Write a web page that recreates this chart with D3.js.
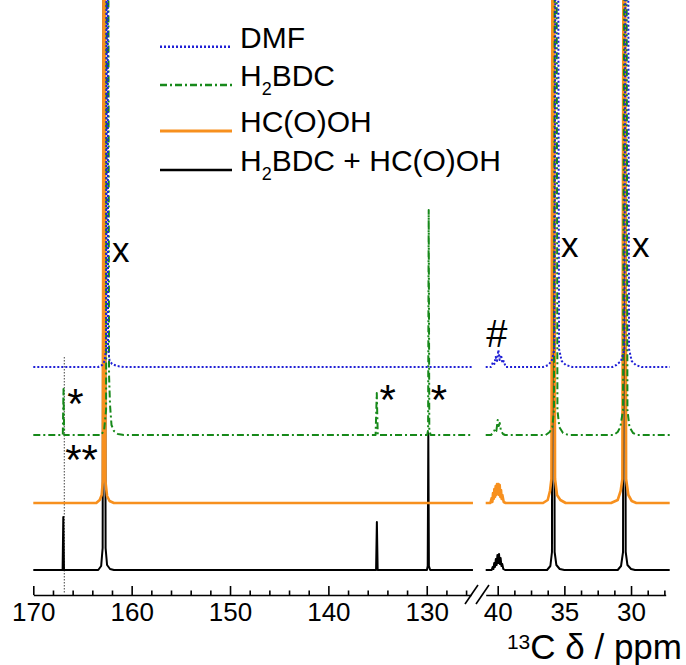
<!DOCTYPE html>
<html>
<head>
<meta charset="utf-8">
<script src="https://cdn.jsdelivr.net/npm/d3@7"></script>
<style>
  body { margin: 0; background: #fff; }
  text { font-family: "Liberation Sans", Arial, sans-serif; }
</style>
</head>
<body>
<div id="chart"></div>
<script>
// ---- data (ppm, intensity above each trace's own baseline) ----
const traceNames = ["DMF", "H{2}BDC", "HC(O)OH", "H{2}BDC + HC(O)OH"];
const traceOffsets = [203, 135, 67, 0];

const dmfLeft = [[170,0],[163.4,0],[163.0,2],[162.75,6],[162.6,18],[162.5,1000],[162.4,18],[162.25,7],[162.0,3],[161.5,1],[160.8,0],[125.3,0]];
const dmfRight = [[40.9,0],[40.5,0],[40.35,5],[40.25,3],[40.15,10],[40.05,6],[39.95,17],[39.85,7],[39.75,12],[39.65,4],[39.55,6],[39.4,0],
  [36.6,0],[36.2,2],[35.95,6],[35.75,18],[35.55,1000],[35.4,18],[35.2,6],[34.9,2],[34.4,0],
  [31.4,0],[31.1,2],[30.75,6],[30.5,18],[30.3,1000],[30.15,18],[29.95,6],[29.65,2],[29.2,0],[27.1,0]];

const bdcLeft = [[170,0],[167.0,0],[166.93,46],[166.86,0],[163.1,0],[162.8,5],[162.6,25],[162.45,1000],[162.3,60],[162.2,30],[162.05,10],[161.8,4],[161.4,1],[160.8,0],
  [135.2,0],[135.08,42],[134.98,0],[129.95,0],[129.86,5],[129.8,225],[129.74,5],[129.6,0],[125.3,0]];
const bdcRight = [[40.9,0],[40.5,0],[40.3,3],[40.2,6],[40.1,4],[40.0,15],[39.92,9],[39.85,12],[39.75,4],[39.6,1],[39.45,0],
  [36.4,0],[36.1,3],[35.9,8],[35.78,25],[35.65,1000],[35.52,25],[35.38,8],[35.1,2],[34.7,0],
  [31.3,0],[31.0,3],[30.8,8],[30.6,25],[30.4,1000],[30.27,25],[30.12,8],[29.85,2],[29.5,0],[27.1,0]];

const formicLeft = [[170,0],[163.6,0],[163.25,3],[163.05,8],[162.93,22],[162.8,1000],[162.67,22],[162.5,7],[162.25,2],[161.8,0],[125.3,0]];
const formicRight = [[40.9,0],[40.55,0],[40.45,5],[40.4,1],[40.35,10],[40.3,4],[40.25,14],[40.2,6],[40.15,17],[40.1,8],[40.05,19],[40.0,9],[39.95,19],[39.9,8],[39.85,18],[39.8,6],[39.75,13],[39.7,4],[39.65,8],[39.55,1],[39.4,0],
  [36.6,0],[36.25,3],[36.08,12],[35.97,24],[35.83,1000],[35.7,24],[35.55,8],[35.3,3],[34.9,0],
  [31.5,0],[31.0,3],[30.78,12],[30.65,24],[30.5,1000],[30.37,24],[30.2,8],[29.95,2],[29.6,0],[27.1,0]];

const mixLeft = [[170,0],[167.02,0],[166.95,53],[166.88,0],[163.4,0],[163.1,4],[162.95,22],[162.8,1000],[162.65,22],[162.5,5],[162.2,1],[161.8,0],
  [135.15,0],[135.07,48],[134.99,0],[129.98,0],[129.9,4],[129.84,137],[129.78,4],[129.65,0],[125.3,0]];
const mixRight = [[40.9,0],[40.45,0],[40.38,3],[40.32,1],[40.26,7],[40.2,3],[40.14,11],[40.08,5],[40.02,15],[39.96,7],[39.9,16],[39.84,6],[39.78,12],[39.72,4],[39.66,6],[39.58,1],[39.45,0],
  [36.3,0],[36.05,4],[35.93,18],[35.83,1000],[35.73,18],[35.6,5],[35.35,1],[35.0,0],
  [31.0,0],[30.75,4],[30.6,18],[30.5,1000],[30.4,18],[30.27,5],[30.0,1],[29.7,0],[27.1,0]];

const leftMajor = [170, 160, 150, 140, 130];
const leftMinor = [168, 166, 164, 162, 158, 156, 154, 152, 148, 146, 144, 142, 138, 136, 134, 132, 128, 126];
const rightMajor = [40, 35, 30];
const rightMinor = [38.75, 37.5, 36.25, 33.75, 32.5, 31.25, 28.75, 27.5];

const markLabels = ["x", "x", "x", "#", "*", "**", "*", "*"];
const markPpm = [162.0, 35.25, 29.93, 40.85, 166.55, 166.75, 134.8, 129.6];
const markLevel = [308, 313, 313, 223, 152, 96, 156, 156];

const referencePpm = 166.85;

// ---- layout ----
const W = 686, H = 665;
const axisY = 595;
const colors = ["#1f1fd6", "#17891a", "#f7901e", "#000000"];
const dashes = ["2,2", "7,3,2,3", null, null];
const widths = [2, 2, 2.6, 2];

const svg = d3.select("#chart").append("svg")
  .attr("width", W).attr("height", H);

const xLeft = d3.scaleLinear().domain([170, 125.5]).range([33.3, 471]);
const xRight = d3.scaleLinear().domain([40.9, 27.4]).range([485.7, 665.7]);
const y = d3.scaleLinear().domain([0, 570]).range([570, 0]);

const series = [
  [dmfLeft, dmfRight],
  [bdcLeft, bdcRight],
  [formicLeft, formicRight],
  [mixLeft, mixRight]
];

// dotted reference line
svg.append("line")
  .attr("x1", xLeft(referencePpm)).attr("x2", xLeft(referencePpm))
  .attr("y1", 357).attr("y2", axisY - 1)
  .attr("stroke", "#444").attr("stroke-width", 1)
  .attr("stroke-dasharray", "1.5,1.5");

// traces: black first, blue on top
const drawOrder = [3, 2, 1, 0];
drawOrder.forEach(i => {
  [[series[i][0], xLeft], [series[i][1], xRight]].forEach(([pts, xs]) => {
    const line = d3.line()
      .x(d => xs(d[0]))
      .y(d => y(d[1] + traceOffsets[i]));
    svg.append("path")
      .datum(pts)
      .attr("d", line)
      .attr("fill", "none")
      .attr("stroke", colors[i])
      .attr("stroke-width", widths[i])
      .attr("stroke-linejoin", "round")
      .attr("stroke-dasharray", dashes[i]);
  });
});

// axes
function drawAxis(scale, major, minor) {
  const g = svg.append("g").attr("transform", `translate(0,${axisY})`);
  g.call(d3.axisBottom(scale).tickValues(major)
      .tickSizeInner(-9).tickSizeOuter(0).tickPadding(8));
  g.append("g").call(d3.axisBottom(scale).tickValues(minor)
      .tickSizeInner(-4.5).tickSizeOuter(0).tickFormat(""))
    .select(".domain").remove();
  g.selectAll("path, line").attr("stroke", "#000").attr("stroke-width", 1.6);
  g.selectAll("text")
    .attr("fill", "#000")
    .style("font-size", "26px")
    .style("font-family", '"Liberation Sans", Arial, sans-serif');
}
drawAxis(xLeft, leftMajor, leftMinor);
drawAxis(xRight, rightMajor, rightMinor);

// axis break
svg.append("g").selectAll("line")
  .data([0, 11])
  .enter().append("line")
  .attr("x1", d => 465 + d).attr("y1", 604)
  .attr("x2", d => 478 + d).attr("y2", 585)
  .attr("stroke", "#000").attr("stroke-width", 1.6);

// axis title
const title = svg.append("text")
  .attr("x", 682).attr("y", 659)
  .attr("text-anchor", "end")
  .style("font-size", "35px");
title.append("tspan").text("13").style("font-size", "21px").attr("dy", -10);
title.append("tspan").text("C δ / ppm").attr("dy", 10);

// annotations
svg.append("g").selectAll("text")
  .data(markLabels)
  .enter().append("text")
  .attr("x", (d, i) => (markPpm[i] > 100 ? xLeft : xRight)(markPpm[i]))
  .attr("y", (d, i) => y(markLevel[i]))
  .style("font-size", d => d === "*" || d === "**" ? "42px" : d === "#" ? "38px" : "35px")
  .text(d => d);

// legend
function richText(sel, str, sub) {
  str.split(/(\{\d+\})/).filter(s => s.length).forEach(part => {
    if (part[0] === "{") {
      sel.append("tspan").text(part.slice(1, -1))
        .style("font-size", sub + "px").attr("dy", 9);
    } else {
      sel.append("tspan").text(part).attr("dy", sel.selectAll("tspan").size() ? -9 : 0);
    }
  });
}
const legendY = [46.7, 85, 131, 170];
const legend = svg.append("g");
traceNames.forEach((name, i) => {
  legend.append("line")
    .attr("x1", 160).attr("x2", 232)
    .attr("y1", legendY[i]).attr("y2", legendY[i])
    .attr("stroke", colors[i])
    .attr("stroke-width", widths[i] + 0.4)
    .attr("stroke-dasharray", dashes[i]);
  const t = legend.append("text")
    .attr("x", 240).attr("y", legendY[i] + 10)
    .style("font-size", "30px");
  richText(t, name, 18);
});
</script>
</body>
</html>
